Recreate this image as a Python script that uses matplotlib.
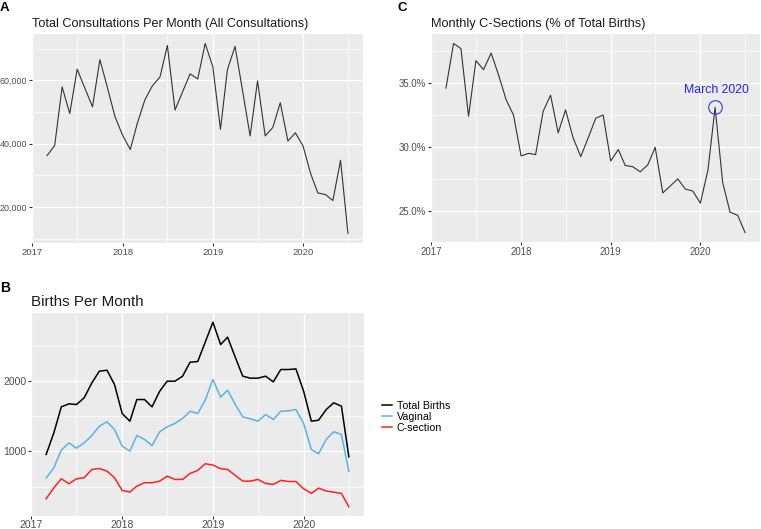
import numpy as np
import pandas as pd
import matplotlib
matplotlib.use("Agg")
import matplotlib.pyplot as plt
import matplotlib.dates as mdates
from matplotlib.ticker import FuncFormatter, FixedLocator

plt.rcParams['font.family'] = ['Liberation Sans', 'DejaVu Sans']

months = pd.date_range('2017-03-01', periods=41, freq='MS')

consults = [36200, 39400, 57900, 49500, 63500, 57500, 51600, 66500, 57500, 48500,
            42600, 38100, 46300, 53800, 58200, 61000, 71000, 50600, 56400, 62000,
            60400, 71600, 64300, 44500, 63300, 70700, 56900, 42400, 59800, 42400,
            45100, 52900, 40800, 43400, 39300, 30500, 24400, 23900, 22000, 34700,
            11600]

csec_pct = [34.6, 38.1, 37.7, 32.4, 36.75, 36.05, 37.35, 35.65, 33.7, 32.5,
            29.3, 29.5, 29.4, 32.8, 34.05, 31.1, 32.9, 30.7, 29.25, 30.7,
            32.25, 32.5, 28.9, 29.8, 28.55, 28.45, 28.05, 28.6, 29.97, 26.4,
            26.95, 27.5, 26.7, 26.55, 25.6, 28.2, 33.1, 27.2, 24.9, 24.65,
            23.3]

total_births = [957, 1265, 1635, 1678, 1668, 1763, 1976, 2142, 2156, 1953,
                1540, 1431, 1739, 1739, 1635, 1858, 2000, 2000, 2071, 2270,
                2280, 2555, 2839, 2521, 2626, 2341, 2071, 2043, 2043, 2071,
                1990, 2166, 2166, 2175, 1858, 1431, 1445, 1597, 1692, 1645,
                924]
vaginal = [621, 768, 1019, 1123, 1047, 1123, 1227, 1360, 1422, 1313,
           1076, 1005, 1227, 1171, 1085, 1280, 1351, 1398, 1469, 1573,
           1540, 1730, 2024, 1773, 1872, 1668, 1493, 1464, 1431, 1526,
           1455, 1573, 1578, 1597, 1398, 1028, 967, 1171, 1280, 1242,
           716]
csection = [327, 483, 611, 540, 611, 626, 744, 758, 720, 626,
            445, 422, 507, 555, 555, 578, 649, 602, 602, 687,
            730, 825, 806, 754, 744, 659, 578, 578, 602, 545,
            531, 588, 573, 573, 469, 403, 479, 436, 422, 403,
            213]

W, H = 761, 529
fig = plt.figure(figsize=(W / 100, H / 100), dpi=100)


def px_axes(left, top, right, bottom):
    return fig.add_axes([left / W, 1 - bottom / H, (right - left) / W, (bottom - top) / H])


def gg_style(ax, ymajor, yminor, lsize, pad=1.5):
    ax.set_facecolor('#EBEBEB')
    for s in ax.spines.values():
        s.set_visible(False)
    ax.xaxis.set_major_locator(mdates.YearLocator())
    ax.xaxis.set_major_formatter(mdates.DateFormatter('%Y'))
    ax.xaxis.set_minor_locator(FixedLocator(mdates.date2num(pd.to_datetime(
        ['2016-07-01', '2017-07-01', '2018-07-01', '2019-07-01', '2020-07-01']))))
    ax.yaxis.set_major_locator(FixedLocator(ymajor))
    ax.yaxis.set_minor_locator(FixedLocator(yminor))
    ax.grid(which='major', color='white', lw=1.0)
    ax.grid(which='minor', color='white', lw=0.5)
    ax.set_axisbelow(True)
    ax.tick_params(which='major', length=2.2, width=0.8, color='#333333',
                   labelcolor='#4D4D4D', labelsize=lsize, pad=pad)
    ax.tick_params(which='minor', length=0)
    d0, d1 = mdates.date2num(months[0]), mdates.date2num(months[-1])
    ext = (d1 - d0) * 0.05
    ax.set_xlim(d0 - ext, d1 + ext)


def title(ax, txt, size, gap_px, h_px):
    ax.text(0, 1 + gap_px / h_px, txt, transform=ax.transAxes,
            fontsize=size, color='#1A1A1A', va='baseline')


# Panel A
axA = px_axes(32, 34, 363, 243)
axA.plot(months, consults, color='#333333', lw=0.8)
gg_style(axA, [20000, 40000, 60000], [10000, 30000, 50000, 70000], 6.8)
axA.tick_params(axis='y', labelsize=6.4, pad=1.2)
axA.yaxis.set_major_formatter(FuncFormatter(lambda v, p: f'{int(v):,}'))
lo, hi = min(consults), max(consults)
axA.set_ylim(lo - 0.05 * (hi - lo), hi + 0.05 * (hi - lo))
title(axA, 'Total Consultations Per Month (All Consultations)', 9.1, 7, 209)
fig.text(0, 1 - 11 / H, 'A', fontsize=9.5, fontweight='bold', va='baseline')

# Panel C
axC = px_axes(431, 34, 760, 242)
axC.plot(months, csec_pct, color='#333333', lw=0.8)
gg_style(axC, [25, 30, 35], [22.5, 27.5, 32.5, 37.5], 6.9)
axC.yaxis.set_major_formatter(FuncFormatter(lambda v, p: f'{v:.1f}%'))
lo, hi = min(csec_pct), max(csec_pct)
axC.set_ylim(lo - 0.05 * (hi - lo), hi + 0.05 * (hi - lo))
title(axC, 'Monthly C-Sections (% of Total Births)', 9.2, 7, 208)
fig.text(397 / W, 1 - 11 / H, 'C', fontsize=9.5, fontweight='bold', va='baseline')
mar = months[36]
axC.plot([mar], [csec_pct[36]], marker='o', ms=9.8, mfc='none', mec='#3333FF', mew=0.8)
axC.annotate('March 2020', (mdates.date2num(mar), csec_pct[36]), xytext=(1, 12.5),
             textcoords='offset points', ha='center', va='center',
             color='#2222FF', fontsize=8.8)

# Panel B
axB = px_axes(31, 313, 364, 516)
axB.plot(months, total_births, color='black', lw=1.1, label='Total Births')
axB.plot(months, vaginal, color='#56B4E9', lw=1.1, label='Vaginal')
axB.plot(months, csection, color='#FF2020', lw=1.1, label='C-section')
gg_style(axB, [1000, 2000], [500, 1500, 2500], 7.5, pad=1.0)
lo, hi = min(csection), max(total_births)
axB.set_ylim(lo - 0.05 * (hi - lo), hi + 0.05 * (hi - lo))
title(axB, 'Births Per Month', 10.9, 7, 203)
fig.text(0, 1 - 292 / H, 'B', fontsize=10, fontweight='bold', va='baseline')
leg = axB.legend(loc='center left', bbox_to_anchor=(1.04, 0.5 - 2.5 / 203), frameon=False,
                 fontsize=7.7, handlelength=1.0, handletextpad=0.4,
                 labelspacing=0.1, borderaxespad=0)

fig.savefig('out.png', dpi=100)
